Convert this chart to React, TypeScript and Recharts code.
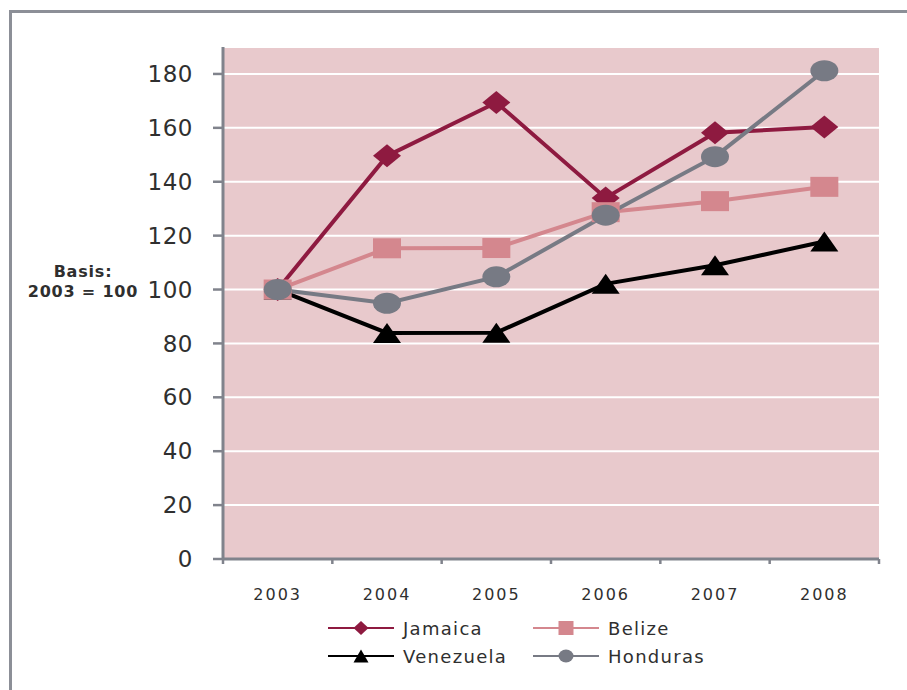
import React from "react";
import { LineChart, Line, XAxis, YAxis, CartesianGrid } from "recharts";

const years = ["2003", "2004", "2005", "2006", "2007", "2008"];
const jamaica = [100, 149.6, 169.4, 134, 158.2, 160.3];
const belize = [100, 115.3, 115.4, 128.7, 132.8, 138.1];
const venezuela = [100, 83.9, 84, 102.1, 109, 117.8];
const honduras = [100, 94.9, 104.7, 127.6, 149.3, 181.2];
const yTicks = [0, 20, 40, 60, 80, 100, 120, 140, 160, 180];

const data = years.map((y, i) => ({
  x: i + 0.5,
  year: y,
  Jamaica: jamaica[i],
  Belize: belize[i],
  Venezuela: venezuela[i],
  Honduras: honduras[i],
}));

const xTicks: number[] = [];
for (let i = 0; i <= years.length; i++) {
  xTicks.push(i);
  if (i < years.length) xTicks.push(i + 0.5);
}

const FONT = "'DejaVu Sans', Verdana, sans-serif";
const AXIS = "#80838c";
const TEXT = "#2f2f2f";

type Shape = "diamond" | "square" | "triangle" | "circle";

function markerEl(shape: Shape, cx: number, cy: number, w: number, h: number, color: string, key?: any) {
  const hw = w / 2;
  const hh = h / 2;
  if (shape === "diamond") {
    return <polygon key={key} points={`${cx},${cy - hh} ${cx + hw},${cy} ${cx},${cy + hh} ${cx - hw},${cy}`} fill={color} />;
  }
  if (shape === "square") {
    return <rect key={key} x={cx - hw} y={cy - hh} width={w} height={h} fill={color} />;
  }
  if (shape === "triangle") {
    return <polygon key={key} points={`${cx},${cy - hh} ${cx + hw},${cy + hh} ${cx - hw},${cy + hh}`} fill={color} />;
  }
  return <ellipse key={key} cx={cx} cy={cy} rx={hw} ry={hh} fill={color} />;
}

const makeDot = (shape: Shape, color: string, w: number, h: number) => (props: any) => {
  const { cx, cy, index } = props;
  if (cx == null || cy == null) return <g key={index} />;
  return markerEl(shape, cx, cy, w, h, color, index);
};

const series = [
  { key: "Jamaica", color: "#8e1a40", shape: "diamond" as Shape, w: 28, h: 23 },
  { key: "Venezuela", color: "#000000", shape: "triangle" as Shape, w: 28, h: 20 },
  { key: "Belize", color: "#d4878e", shape: "square" as Shape, w: 28, h: 20 },
  { key: "Honduras", color: "#777a84", shape: "circle" as Shape, w: 28, h: 21 },
];

const legendItems = [
  { key: "Jamaica", color: "#8e1a40", shape: "diamond" as Shape, w: 15, h: 14, col: 0, row: 0 },
  { key: "Belize", color: "#d4878e", shape: "square" as Shape, w: 15, h: 14, col: 1, row: 0 },
  { key: "Venezuela", color: "#000000", shape: "triangle" as Shape, w: 15, h: 13, col: 0, row: 1 },
  { key: "Honduras", color: "#777a84", shape: "circle" as Shape, w: 15, h: 13, col: 1, row: 1 },
];

const XTick = (props: any) => {
  const { x, y, payload } = props;
  const v = payload.value as number;
  if (Number.isInteger(v)) {
    return <line x1={x} x2={x} y1={y} y2={y + 5} stroke={AXIS} strokeWidth={2.5} />;
  }
  return (
    <text x={x} y={y + 41} textAnchor="middle" fontSize={16} letterSpacing={2} fill={TEXT} fontFamily={FONT}>
      {years[Math.floor(v)]}
    </text>
  );
};

export default function App() {
  return (
    <div style={{ position: "absolute", left: 0, top: 0, width: 907, height: 690, overflow: "hidden", background: "#fff" }}>
      <div
        style={{
          position: "absolute",
          left: 9,
          top: 10,
          width: 1200,
          height: 1200,
          border: "3px solid #8c8f97",
        }}
      />
      <div style={{ position: "absolute", left: 0, top: 0 }}>
        <LineChart width={907} height={690} data={data} margin={{ top: 47, right: 28, bottom: 91, left: 0 }}>
          <CartesianGrid vertical={false} horizontal={true} stroke="#ffffff" strokeWidth={2} fill="#e8c9cc" />
          <XAxis
            dataKey="x"
            type="number"
            domain={[0, 6]}
            ticks={xTicks}
            interval={0}
            height={40}
            tickSize={0}
            tickMargin={0}
            tickLine={false}
            axisLine={{ stroke: AXIS, strokeWidth: 3 }}
            tick={<XTick />}
          />
          <YAxis
            type="number"
            domain={[0, 190]}
            ticks={yTicks}
            interval={0}
            width={223}
            tickSize={10}
            tickMargin={20}
            axisLine={{ stroke: AXIS, strokeWidth: 3 }}
            tickLine={{ stroke: AXIS, strokeWidth: 2.5 }}
            tick={{ fontSize: 23, fill: TEXT, fontFamily: FONT, letterSpacing: 0.5 }}
          />
          {series.map((s) => (
            <Line
              key={s.key}
              type="linear"
              dataKey={s.key}
              stroke={s.color}
              strokeWidth={4}
              dot={makeDot(s.shape, s.color, s.w, s.h)}
              activeDot={false}
              isAnimationActive={false}
            />
          ))}
        </LineChart>
      </div>
      <svg width={907} height={690} style={{ position: "absolute", left: 0, top: 0, pointerEvents: "none" }}>
        <text x={83} y={277} textAnchor="middle" fontSize={16} fontWeight="bold" letterSpacing={0.8} fill={TEXT} fontFamily={FONT}>
          Basis:
        </text>
        <text x={83} y={297} textAnchor="middle" fontSize={16} fontWeight="bold" letterSpacing={0.8} fill={TEXT} fontFamily={FONT}>
          2003 = 100
        </text>
        {legendItems.map((it) => {
          const x0 = it.col === 0 ? 328 : 533;
          const y = it.row === 0 ? 628 : 656;
          return (
            <g key={it.key}>
              <line x1={x0} x2={x0 + 66} y1={y} y2={y} stroke={it.color} strokeWidth={2} />
              {markerEl(it.shape, x0 + 33, y, it.w, it.h, it.color)}
              <text x={x0 + 75} y={y + 7} fontSize={18} letterSpacing={1.3} fill={TEXT} fontFamily={FONT}>
                {it.key}
              </text>
            </g>
          );
        })}
      </svg>
    </div>
  );
}
